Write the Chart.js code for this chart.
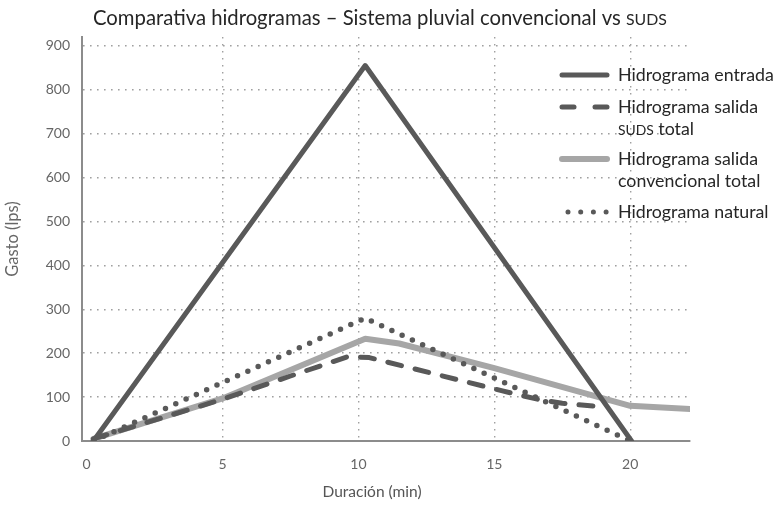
<!DOCTYPE html>
<html><head><meta charset="utf-8">
<script src="https://cdn.jsdelivr.net/npm/chart.js@4/dist/chart.umd.min.js"></script>
<style>html,body{margin:0;padding:0;background:#fff}</style>
</head><body>
<canvas id="c" width="779" height="505"></canvas>
<script>
// ---- data ----
const xTicks = [0, 5, 10, 15, 20];
const yTicks = [0, 100, 200, 300, 400, 500, 600, 700, 800, 900];

const entradaX = [0.25, 10.25, 20.05];
const entradaY = [0, 855, 0];

const sudsX = [0.25, 2, 5, 7.5, 9.6, 10.4, 15.3, 16.6, 17.5, 19.1];
const sudsY = [5, 38, 95, 148, 192, 190, 114, 95, 86, 77];

const convX = [0.25, 5, 10.25, 11.5, 15, 20, 22.2];
const convY = [5, 97, 233, 222, 166, 80, 73];

const naturalX = [0.25, 10.25, 20];
const naturalY = [0, 280, 0];

const seriesLabels = [
  ["Hidrograma entrada"],
  ["Hidrograma salida", "SUDS total"],
  ["Hidrograma salida", "convencional total"],
  ["Hidrograma natural"]
];
const titleText = "Comparativa hidrogramas \u2013 Sistema pluvial convencional vs SUDS";
const xTitle = "Duraci\u00f3n (min)";
const yTitle = "Gasto (lps)";

const DARK = '#595959', LIGHT = '#a6a6a6';
const FONT = 'Lato';

function pts(xs, ys) { return xs.map((x, i) => ({x: x, y: ys[i]})); }

// draw text where "SUDS" is set as small capitals
function drawMixed(ctx, text, x, y, size, color) {
  const parts = text.split(/(SUDS)/);
  ctx.fillStyle = color;
  ctx.textBaseline = 'middle';
  ctx.textAlign = 'left';
  let cx = x;
  parts.forEach(p => {
    if (!p) return;
    const s = p === 'SUDS' ? size * 0.78 : size;
    ctx.font = s + 'px ' + FONT;
    ctx.fillText(p, cx, y + (p === 'SUDS' ? size * 0.07 : 0));
    cx += ctx.measureText(p).width;
  });
}

const decorPlugin = {
  id: 'decor',
  afterDraw(chart) {
    const ctx = chart.ctx;
    ctx.save();
    // title
    drawMixed(ctx, titleText, 93, 18, 20.3, '#262626');
    // x axis title
    ctx.font = '15.5px ' + FONT;
    ctx.fillStyle = '#555';
    ctx.textAlign = 'center';
    ctx.textBaseline = 'middle';
    ctx.fillText(xTitle, 372, 492);
    // legend
    const entries = [
      {y: 75, style: 'solid', color: DARK, w: 5},
      {y: 107, style: 'dash', color: DARK, w: 5},
      {y: 159, style: 'solid', color: LIGHT, w: 6},
      {y: 212, style: 'dot', color: DARK, w: 5}
    ];
    entries.forEach((e, i) => {
      ctx.strokeStyle = e.color;
      ctx.lineWidth = e.w;
      ctx.lineCap = 'round';
      if (e.style === 'solid') {
        ctx.setLineDash([]);
        ctx.beginPath(); ctx.moveTo(562, e.y); ctx.lineTo(607, e.y); ctx.stroke();
      } else if (e.style === 'dash') {
        ctx.setLineDash([]);
        ctx.beginPath(); ctx.moveTo(562, e.y); ctx.lineTo(574, e.y); ctx.stroke();
        ctx.beginPath(); ctx.moveTo(595, e.y); ctx.lineTo(607, e.y); ctx.stroke();
      } else {
        ctx.setLineDash([0, 12.7]);
        ctx.beginPath(); ctx.moveTo(568, e.y); ctx.lineTo(607, e.y); ctx.stroke();
      }
      ctx.setLineDash([]);
      seriesLabels[i].forEach((line, k) => {
        drawMixed(ctx, line, 618, e.y + k * 22.5, 17.8, '#262626');
      });
    });
    ctx.restore();
  }
};

const gridDash = [1.6, 5.4];

new Chart(document.getElementById('c'), {
  type: 'scatter',
  data: {
    datasets: [
      {label: seriesLabels[0].join(' '), data: pts(entradaX, entradaY), showLine: true,
       borderColor: DARK, borderWidth: 5, pointRadius: 0, order: 0, borderCapStyle: 'round', borderJoinStyle: 'round'},
      {label: seriesLabels[1].join(' '), data: pts(sudsX, sudsY), showLine: true,
       borderColor: DARK, borderWidth: 5, pointRadius: 0, order: 2, borderDash: [14, 14], borderCapStyle: 'round', borderJoinStyle: 'round'},
      {label: seriesLabels[2].join(' '), data: pts(convX, convY), showLine: true,
       borderColor: LIGHT, borderWidth: 6, pointRadius: 0, order: 3, borderCapStyle: 'round', borderJoinStyle: 'round'},
      {label: seriesLabels[3].join(' '), data: pts(naturalX, naturalY), showLine: true,
       borderColor: DARK, borderWidth: 5.5, pointRadius: 0, order: 1, borderDash: [0, 11.3], borderCapStyle: 'round', borderJoinStyle: 'round'}
    ]
  },
  options: {
    responsive: false,
    animation: false,
    devicePixelRatio: 1,
    layout: {padding: {top: 37, right: 89, left: 0, bottom: 0}},
    plugins: {legend: {display: false}, title: {display: false}, tooltip: {enabled: false}},
    scales: {
      x: {
        type: 'linear', min: -0.17, max: 22.2,
        afterBuildTicks: s => { s.ticks = xTicks.map(v => ({value: v})); },
        afterFit: s => { s.height = 64; },
        grid: {color: c => (c.tick && c.tick.value === 0) ? 'rgba(0,0,0,0)' : '#a0a0a0', lineWidth: 1.4, drawTicks: false},
        border: {color: '#8c8c8c', width: 2, dash: gridDash},
        ticks: {color: '#666', font: {family: FONT, size: 14}, padding: 15, maxRotation: 0, autoSkip: false},
        title: {display: false}
      },
      y: {
        type: 'linear', min: 0, max: 920,
        afterBuildTicks: s => { s.ticks = yTicks.map(v => ({value: v})); },
        afterFit: s => { s.width = 82; },
        grid: {color: c => (c.tick && c.tick.value === 0) ? 'rgba(0,0,0,0)' : '#a0a0a0', lineWidth: 1.4, drawTicks: false},
        border: {color: '#8c8c8c', width: 2, dash: gridDash},
        ticks: {color: '#666', font: {family: FONT, size: 14}, padding: 12},
        title: {display: true, text: yTitle, color: '#666', font: {family: FONT, size: 16.5}, padding: {top: 3, bottom: 0}}
      }
    }
  },
  plugins: [decorPlugin]
});
</script>
</body></html>
